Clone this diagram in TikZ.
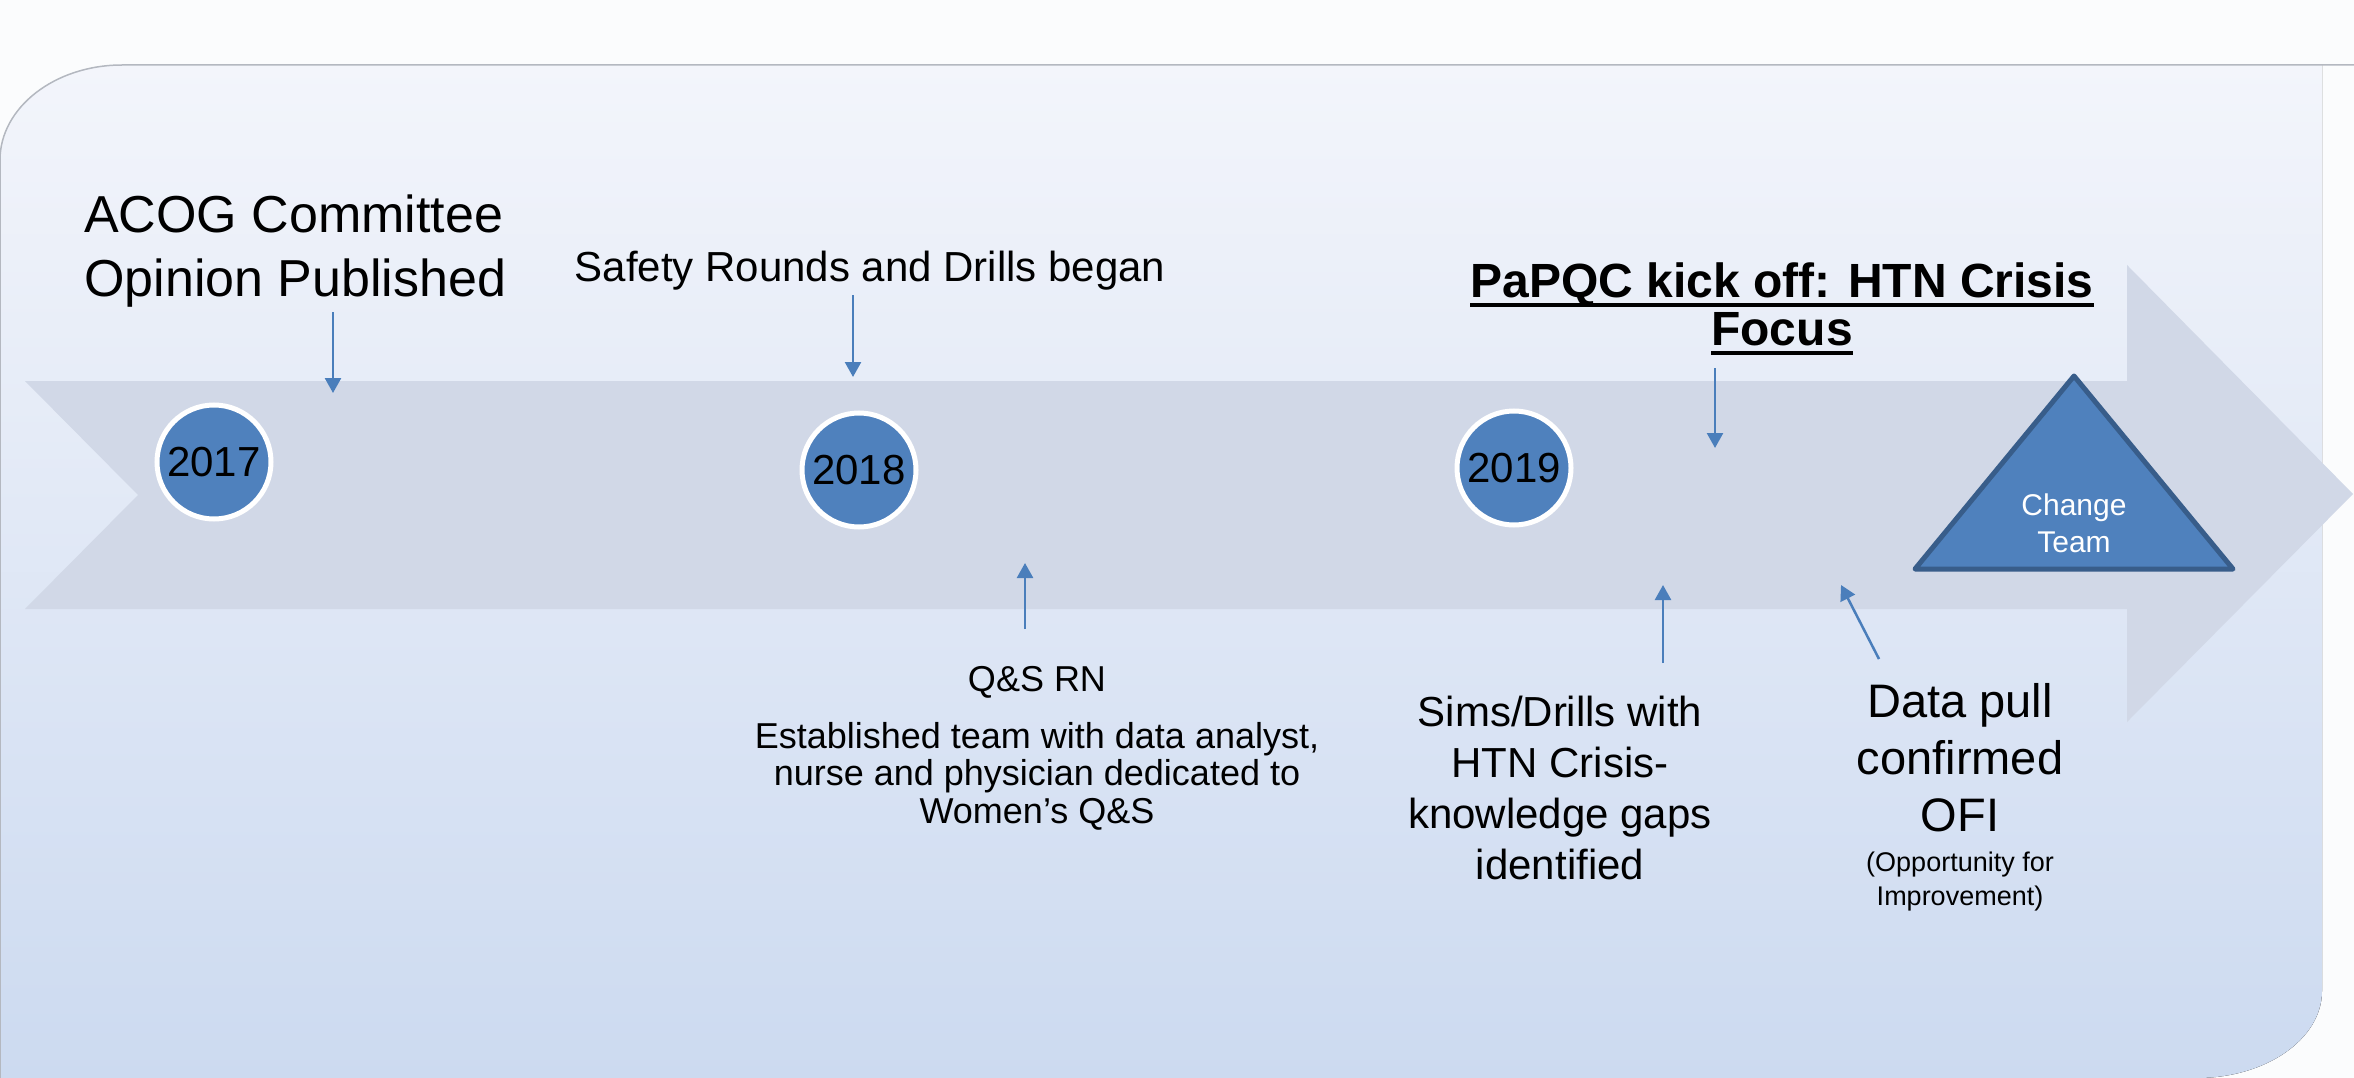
\documentclass[tikz,border=0pt]{standalone}
\usepackage{fontspec}
\setmainfont{Liberation Sans}
\usetikzlibrary{arrows.meta}
\definecolor{outerbg}{HTML}{FBFCFD}
\definecolor{paneltop}{HTML}{F3F5FB}
\definecolor{panelbot}{HTML}{CCDAF0}
\definecolor{panelline}{HTML}{B4B8C0}
\definecolor{bandcol}{HTML}{D1D8E7}
\definecolor{bluefill}{HTML}{4F81BD}
\definecolor{tristroke}{HTML}{385D8A}
\definecolor{connblue}{HTML}{4A7EBB}
\newsavebox\ulbox
\newcommand\ulbar[1]{\sbox\ulbox{#1}\rlap{\rule[-9pt]{\wd\ulbox}{4pt}}\usebox\ulbox}
\begin{document}
\begin{tikzpicture}[x=1pt,y=-1pt,
  conn/.style={draw=connblue, line width=2.5pt, -{Triangle[length=15pt,width=16pt]}},
  yearnode/.style={circle, fill=bluefill, draw=white, line width=5pt, minimum size=114pt, inner sep=0pt, text=black, font=\fontsize{42}{50}\selectfont},
  txt/.style={inner sep=0pt, align=center, text=black}
]
\useasboundingbox (0,0) rectangle (2354,1078);
% background
\fill[outerbg] (0,0) rectangle (2354,1078);
\fill[top color=paneltop, bottom color=panelbot] (0,1078) -- (0,160) .. controls (0,107.6) and (54.7,65) .. (122,65) -- (2322,65) -- (2322,991) .. controls (2322,1039) and (2266,1078) .. (2197,1078) -- cycle;
\draw[panelline, line width=1.5pt] (0,1078) -- (0,160) .. controls (0,107.6) and (54.7,65) .. (122,65) -- (2354,65);
% timeline band
\fill[bandcol] (25,381) -- (2127,381) -- (2127,265) -- (2353,494) -- (2127,722) -- (2127,609) -- (25,609) -- (138,495) -- cycle;
% years
\node[yearnode] (y17) at (214,462) {2017};
\node[yearnode] (y18) at (859,470) {2018};
\node[yearnode] (y19) at (1514,468) {2019};
% change team triangle
\coordinate (tA) at (2074,376);
\coordinate (tB) at (1915,569);
\coordinate (tC) at (2233,569);
\filldraw[fill=bluefill, draw=tristroke, line width=5pt, line join=round] (tA) -- (tB) -- (tC) -- cycle;
\node[txt, anchor=north, text=white, font=\fontsize{30}{37}\selectfont] (ct) at (2074,494) {Change\\Team};
% texts
\node[inner sep=0pt, anchor=north west, align=left, font=\fontsize{52}{64}\selectfont] (acog) at (84,195) {ACOG Committee\\Opinion Published};
\node[inner sep=0pt, anchor=base, font=\fontsize{42}{50}\selectfont] (safety) at (870,281) {Safety Rounds and Drills began};
\node[txt, anchor=north, font=\fontsize{48}{48}\bfseries\selectfont] (papqc) at (1782,263) {\ulbar{PaPQC kick off: HTN Crisis}\\\ulbar{Focus}};
\node[inner sep=0pt, anchor=base, font=\fontsize{36}{40}\selectfont] (qsrn) at (1037,691) {Q\&S RN};
\node[txt, anchor=north, font=\fontsize{36}{37.5}\selectfont] (estab) at (1037,722) {Established team with data analyst,\\nurse and physician dedicated to\\Women’s Q\&S};
\node[txt, anchor=north, font=\fontsize{42}{51}\selectfont] (sims) at (1560,696) {Sims/Drills with\\HTN Crisis-\\knowledge gaps\\identified};
\node[txt, anchor=north, font=\fontsize{47}{57}\selectfont] (data) at (1960,683) {Data pull\\confirmed\\OFI};
\node[txt, anchor=north, font=\fontsize{27}{34}\selectfont] (ofi) at (1960,852) {(Opportunity for\\Improvement)};
% connectors
\coordinate (a1s) at (333,312); \coordinate (a1e) at (333,393);
\coordinate (a2s) at (853,295); \coordinate (a2e) at (853,377);
\coordinate (a3s) at (1715,368); \coordinate (a3e) at (1715,448);
\coordinate (a4s) at (1025,629); \coordinate (a4e) at (1025,563);
\coordinate (a5s) at (1663,663); \coordinate (a5e) at (1663,585);
\coordinate (a6s) at (1879,659); \coordinate (a6e) at (1841,585);
\draw[conn] (a1s) -- (a1e);
\draw[conn] (a2s) -- (a2e);
\draw[conn] (a3s) -- (a3e);
\draw[conn] (a4s) -- (a4e);
\draw[conn] (a5s) -- (a5e);
\draw[conn] (a6s) -- (a6e);
\end{tikzpicture}
\end{document}
